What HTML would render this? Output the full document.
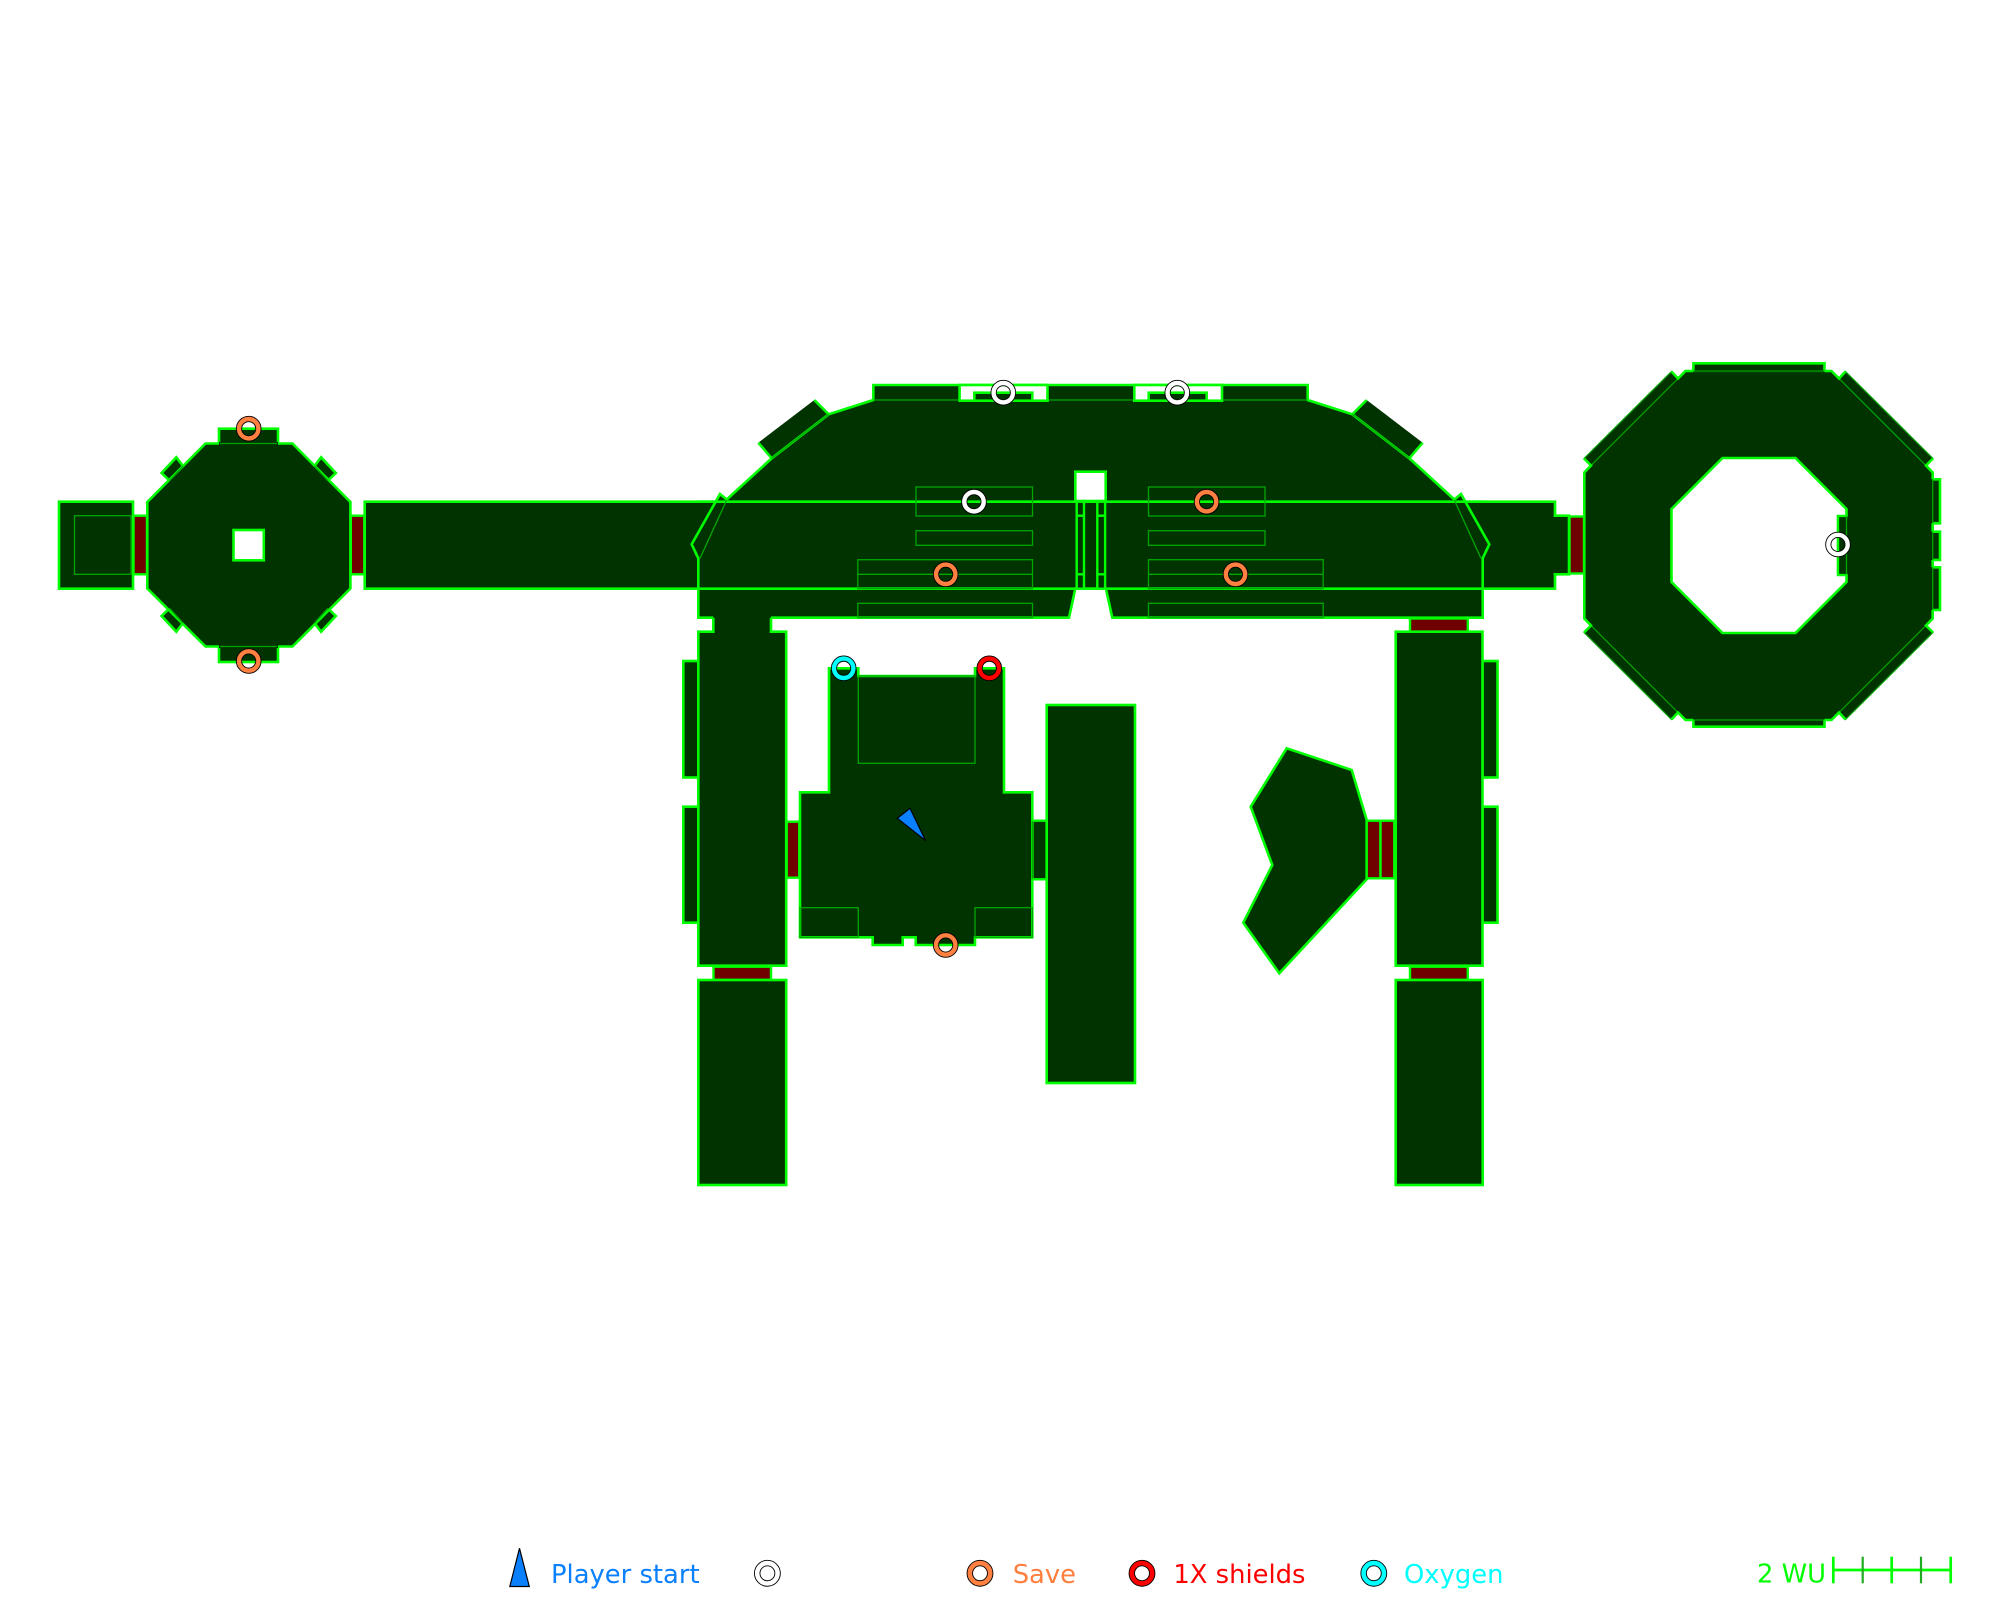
<!DOCTYPE html>
<html><head><meta charset="utf-8"><style>
html,body{margin:0;padding:0;background:#fff;}
svg{display:block;}
text{font-family:"DejaVu Sans","Liberation Sans",sans-serif;font-size:25.8px;}
</style></head><body>
<svg width="2000" height="1600" viewBox="0 0 2000 1600" xmlns="http://www.w3.org/2000/svg">
<rect width="2000" height="1600" fill="#fff"/>
<g stroke-linejoin="miter">
<!-- long corridor -->
<rect x="364.7" y="501.7" width="1190.3" height="87" fill="#003300" stroke="#00ff00" stroke-width="2.6"/>
<rect x="1555" y="515.7" width="14" height="58.6" fill="#003300" stroke="#00ff00" stroke-width="2.6"/>
<rect x="1552.5" y="517" width="6" height="56" fill="#003300"/>
<!-- door to big octagon -->
<rect x="1569.5" y="516.5" width="14.5" height="57" fill="#700000" stroke="#00ff00" stroke-width="2.4"/>

<!-- left room -->
<rect x="59" y="501.7" width="74" height="87" fill="#003300" stroke="#00ff00" stroke-width="2.6"/>
<rect x="74.5" y="515.7" width="56.5" height="58.6" fill="none" stroke="#00a500" stroke-width="1.3"/>
<rect x="133.5" y="515.7" width="13.5" height="58.6" fill="#700000" stroke="#00ff00" stroke-width="2.4"/>

<!-- left octagon tabs and squares -->
<rect x="219" y="428.7" width="59" height="16" fill="#003300" stroke="#00ff00" stroke-width="2.6"/>
<rect x="219" y="645" width="59" height="17" fill="#003300" stroke="#00ff00" stroke-width="2.6"/>
<polygon points="183,466 176.3,457.3 161.6,473 169.6,480.7" fill="#003300" stroke="#00ff00" stroke-width="2.6"/>
<polygon points="314.4,466 321.1,457.3 335.8,473 327.8,480.7" fill="#003300" stroke="#00ff00" stroke-width="2.6"/>
<polygon points="183,623 176.3,631.7 161.6,616 169.6,608.3" fill="#003300" stroke="#00ff00" stroke-width="2.6"/>
<polygon points="314.4,623 321.1,631.7 335.8,616 327.8,608.3" fill="#003300" stroke="#00ff00" stroke-width="2.6"/>
<!-- left octagon -->
<polygon points="205.5,443.5 292.5,443.5 350.4,502 350.4,588.5 292.5,646.5 205.5,646.5 147.3,588.5 147.3,502" fill="#003300" stroke="#00ff00" stroke-width="2.6"/>
<line x1="219" y1="443.5" x2="278" y2="443.5" stroke="#003300" stroke-width="3"/>
<line x1="220" y1="443.5" x2="277" y2="443.5" stroke="#00a500" stroke-width="1.3"/>
<line x1="219" y1="646.5" x2="278" y2="646.5" stroke="#003300" stroke-width="3"/>
<line x1="220" y1="646.5" x2="277" y2="646.5" stroke="#00a500" stroke-width="1.3"/>
<g stroke="#00a500" stroke-width="1.3">
<line x1="183" y1="466" x2="169.6" y2="480.7"/>
<line x1="314.4" y1="466" x2="327.8" y2="480.7"/>
<line x1="183" y1="623" x2="169.6" y2="608.3"/>
<line x1="314.4" y1="623" x2="327.8" y2="608.3"/>
</g>
<rect x="233.5" y="530" width="30.3" height="30.3" fill="#fff" stroke="#00ff00" stroke-width="2.6"/>
<rect x="350.8" y="515.7" width="13.5" height="58.6" fill="#700000" stroke="#00ff00" stroke-width="2.4"/>

<!-- left leg tabs -->
<rect x="683.3" y="661" width="15" height="116.5" fill="#003300" stroke="#00ff00" stroke-width="2.6"/>
<rect x="683.3" y="806.7" width="15" height="116" fill="#003300" stroke="#00ff00" stroke-width="2.6"/>
<!-- right leg tabs -->
<rect x="1482.5" y="661" width="15" height="116.5" fill="#003300" stroke="#00ff00" stroke-width="2.6"/>
<rect x="1482.5" y="806.7" width="15" height="116" fill="#003300" stroke="#00ff00" stroke-width="2.6"/>

<!-- wings -->
<polygon points="828.7,414.3 814.3,400 758.3,442.7 771.7,458.3" fill="#003300"/>
<polygon points="1352.3,414.3 1366.7,400 1422.7,442.7 1409.3,458.3" fill="#003300"/>
<g stroke="#00ff00" stroke-width="2.6">
<line x1="828.7" y1="414.3" x2="814.3" y2="400"/>
<line x1="758.3" y1="442.7" x2="771.7" y2="458.3"/>
<line x1="1352.3" y1="414.3" x2="1366.7" y2="400"/>
<line x1="1422.7" y1="442.7" x2="1409.3" y2="458.3"/>
</g>

<!-- hull -->
<polygon points="873.3,385 1307.7,385 1307.7,400 1352.3,414.3 1409.3,458.3 1454.3,499.5 1461,494 1489.3,544.3 1482.7,558.3 1482.7,617.7 1112.3,617.7 1105.9,588.7 1075.3,588.7 1069,617.7 698.3,617.7 698.3,558.3 691.7,544.3 720,494 726.7,499.5 771.7,458.3 828.7,414.3 873.3,400" fill="#003300" stroke="#00ff00" stroke-width="2.6"/>
<!-- corridor lines across hull -->
<line x1="698.3" y1="501.7" x2="1482.7" y2="501.7" stroke="#00ff00" stroke-width="2.6"/>
<line x1="698.3" y1="588.7" x2="1482.7" y2="588.7" stroke="#00ff00" stroke-width="2.6"/>
<!-- thin inner hull lines -->
<g stroke="#00a500" stroke-width="1.3" fill="none">
<line x1="873.3" y1="400" x2="1307.7" y2="400"/>
<line x1="828.7" y1="414.3" x2="771.7" y2="458.3"/>
<line x1="1352.3" y1="414.3" x2="1409.3" y2="458.3"/>
<line x1="726.7" y1="500" x2="700" y2="558.3"/>
<line x1="1454.3" y1="500" x2="1481" y2="558.3"/>
<rect x="916" y="487" width="116.5" height="29"/>
<rect x="916" y="530.7" width="116.5" height="14.6"/>
<rect x="857.8" y="559.7" width="174.7" height="29"/>
<line x1="857.8" y1="574.3" x2="1032.5" y2="574.3"/>
<rect x="857.8" y="603.3" width="174.7" height="14.4"/>
<rect x="1148.5" y="487" width="116.5" height="29"/>
<rect x="1148.5" y="530.7" width="116.5" height="14.6"/>
<rect x="1148.5" y="559.7" width="174.7" height="29"/>
<line x1="1148.5" y1="574.3" x2="1323.2" y2="574.3"/>
<rect x="1148.5" y="603.3" width="174.7" height="14.4"/>
</g>
<!-- top notches -->
<rect x="959.6" y="385" width="87.9" height="15.7" fill="#fff" stroke="#00ff00" stroke-width="2.6"/>
<rect x="974.3" y="392.7" width="58" height="8" fill="#003300" stroke="#00ff00" stroke-width="2.6"/>
<rect x="1134.3" y="385" width="87.7" height="15.7" fill="#fff" stroke="#00ff00" stroke-width="2.6"/>
<rect x="1148.7" y="392.7" width="58" height="8" fill="#003300" stroke="#00ff00" stroke-width="2.6"/>
<!-- center hole and column -->
<rect x="1075.3" y="471.7" width="30.4" height="29.3" fill="#fff" stroke="#00ff00" stroke-width="2.6"/>
<g stroke="#00ff00" stroke-width="2.4" fill="#003300">
<rect x="1076.7" y="501.7" width="7.3" height="87"/>
<rect x="1097.3" y="501.7" width="7.8" height="87"/>
<line x1="1076.7" y1="515.7" x2="1084" y2="515.7"/>
<line x1="1076.7" y1="574.3" x2="1084" y2="574.3"/>
<line x1="1097.3" y1="515.7" x2="1105.1" y2="515.7"/>
<line x1="1097.3" y1="574.3" x2="1105.1" y2="574.3"/>
</g>

<!-- left neck + leg -->
<polygon points="713.3,616 771,616 771,631.7 786.2,631.7 786.2,965.7 698.3,965.7 698.3,631.7 713.3,631.7" fill="#003300"/>
<polyline points="713.3,617.7 713.3,631.7 698.3,631.7 698.3,965.7 786.2,965.7 786.2,631.7 771,631.7 771,617.7" fill="none" stroke="#00ff00" stroke-width="2.6"/>
<rect x="713.5" y="966.7" width="57.5" height="13.3" fill="#700000" stroke="#00ff00" stroke-width="2.4"/>
<rect x="698.3" y="980" width="87.9" height="205" fill="#003300" stroke="#00ff00" stroke-width="2.6"/>
<rect x="786.7" y="821.7" width="12.6" height="56" fill="#700000" stroke="#00ff00" stroke-width="2.4"/>

<!-- right leg -->
<rect x="1410" y="618.5" width="57.8" height="13.2" fill="#700000" stroke="#00ff00" stroke-width="2.4"/>
<rect x="1395.7" y="631.7" width="86.8" height="334" fill="#003300" stroke="#00ff00" stroke-width="2.6"/>
<rect x="1410" y="966.7" width="57.8" height="13.3" fill="#700000" stroke="#00ff00" stroke-width="2.4"/>
<rect x="1395.7" y="980" width="87" height="205" fill="#003300" stroke="#00ff00" stroke-width="2.6"/>

<!-- center room -->
<rect x="1031" y="820.7" width="16.7" height="58.6" fill="#003300" stroke="#00ff00" stroke-width="2.4"/>
<polygon points="829,668.3 858.3,668.3 858.3,676 975,676 975,668.3 1004,668.3 1004,792.3 1032.3,792.3 1032.3,937.3 975,937.3 975,945 915.7,945 915.7,937.3 902.7,937.3 902.7,945 872.7,945 872.7,937.3 800,937.3 800,792.3 829,792.3" fill="#003300" stroke="#00ff00" stroke-width="2.6"/>
<g stroke="#00a500" stroke-width="1.3" fill="none">
<rect x="858.3" y="676" width="116.7" height="87.3"/>
<rect x="800" y="907.7" width="58.3" height="29.6"/>
<rect x="975" y="907.7" width="57.3" height="29.6"/>
<line x1="1032.3" y1="821" x2="1032.3" y2="879"/>
</g>

<!-- central column -->
<rect x="1046.7" y="705" width="88.3" height="378" fill="#003300" stroke="#00ff00" stroke-width="2.6"/>

<!-- irregular room -->
<polygon points="1286.7,748.3 1351.7,770 1366.7,820 1366.7,879.3 1279.3,973.3 1243.3,922.7 1272.3,865 1250.7,806.7" fill="#003300" stroke="#00ff00" stroke-width="2.6"/>
<rect x="1366.7" y="820.7" width="13.8" height="57.6" fill="#700000" stroke="#00ff00" stroke-width="2.4"/>
<rect x="1380.5" y="820.7" width="13.8" height="57.6" fill="#700000" stroke="#00ff00" stroke-width="2.4"/>

<!-- big octagon -->
<polygon points="1685.5,371 1831.5,371 1839,378.5 1926,465.5 1932.7,472.5 1932.7,618.5 1926,625.5 1839,712.5 1831.5,720 1685.5,720 1678,712.5 1591,625.5 1584.3,618.5 1584.3,472.5 1591,465.5 1678,378.5" fill="#003300"/>
<g fill="#003300" stroke="#00a500" stroke-width="1.2">
<polygon points="1839,378.5 1845.5,371.5 1933,458.5 1926,465.5"/>
<polygon points="1839,712.5 1845.5,719.5 1933,632.5 1926,625.5"/>
<polygon points="1678,712.5 1671.5,719.5 1584,632.5 1591,625.5"/>
<polygon points="1678,378.5 1671.5,371.5 1584,458.5 1591,465.5"/>
</g>
<g fill="none" stroke="#00ff00" stroke-width="2.6">
<polyline points="1671.5,371.5 1678,378.5 1685.5,371 1831.5,371 1839,378.5 1845.5,371.5"/>
<polyline points="1933,458.5 1926,465.5 1932.7,472.5 1932.7,618.5 1926,625.5 1933,632.5"/>
<polyline points="1845.5,719.5 1839,712.5 1831.5,720 1685.5,720 1678,712.5 1671.5,719.5"/>
<polyline points="1584,632.5 1591,625.5 1584.3,618.5 1584.3,472.5 1591,465.5 1584,458.5"/>
</g>
<!-- octagon tabs -->
<rect x="1693.4" y="363.3" width="131.1" height="9" fill="#003300"/>
<polyline points="1693.4,371 1693.4,363.3 1824.5,363.3 1824.5,371" fill="none" stroke="#00ff00" stroke-width="2.6"/>
<line x1="1693.4" y1="371" x2="1824.5" y2="371" stroke="#00a500" stroke-width="1.3"/>
<rect x="1693.4" y="718.5" width="131.1" height="8.2" fill="#003300"/>
<polyline points="1693.4,720 1693.4,726.7 1824.5,726.7 1824.5,720" fill="none" stroke="#00ff00" stroke-width="2.6"/>
<line x1="1693.4" y1="720" x2="1824.5" y2="720" stroke="#00a500" stroke-width="1.3"/>
<g fill="#003300">
<rect x="1931" y="479.3" width="9" height="44"/>
<rect x="1931" y="531.7" width="9" height="28.3"/>
<rect x="1931" y="567.3" width="9" height="42.7"/>
</g>
<g fill="none" stroke="#00ff00" stroke-width="2.6">
<polyline points="1932.7,479.3 1940,479.3 1940,523.3 1932.7,523.3"/>
<polyline points="1932.7,531.7 1940,531.7 1940,560 1932.7,560"/>
<polyline points="1932.7,567.3 1940,567.3 1940,610 1932.7,610"/>
</g>
<g stroke="#00a500" stroke-width="1.3">
<line x1="1932.7" y1="479.3" x2="1932.7" y2="523.3"/>
<line x1="1932.7" y1="531.7" x2="1932.7" y2="560"/>
<line x1="1932.7" y1="567.3" x2="1932.7" y2="610"/>
</g>
<!-- octagon hole -->
<polygon points="1722.5,458 1795.5,458 1846.5,509 1846.5,516 1838,516 1838,575 1846.5,575 1846.5,582 1795.5,633 1722.5,633 1671.5,582 1671.5,509" fill="#fff" stroke="#00ff00" stroke-width="2.6"/>
<rect x="1839.3" y="517.3" width="7" height="56.4" fill="#003300"/>
<line x1="1846.5" y1="516" x2="1846.5" y2="575" stroke="#00a500" stroke-width="1.3"/>
</g>

<!-- player start -->
<polygon points="897.3,818.3 910,808.3 925.7,840.7" fill="#0a80ff" stroke="#000" stroke-width="1.2" stroke-linejoin="miter"/>

<!-- markers -->
<g fill="none">
<g stroke="#000" stroke-width="6.2">
<circle cx="248.7" cy="428.7" r="9.7"/><circle cx="248.7" cy="661" r="9.7"/>
<circle cx="1003.3" cy="392.7" r="9.7"/><circle cx="1177.3" cy="392.7" r="9.7"/>
<circle cx="974" cy="501.7" r="9.7"/><circle cx="1206.6" cy="501.7" r="9.7"/>
<circle cx="945.7" cy="574.3" r="9.7"/><circle cx="1235.5" cy="574.3" r="9.7"/>
<circle cx="843.7" cy="668.3" r="9.7"/><circle cx="989.3" cy="668.3" r="9.7"/>
<circle cx="945.7" cy="945" r="9.7"/><circle cx="1838" cy="544.5" r="9.7"/>
</g>
<g stroke-width="4.4">
<circle cx="248.7" cy="428.7" r="9.7" stroke="#ff8040"/><circle cx="248.7" cy="661" r="9.7" stroke="#ff8040"/>
<circle cx="1003.3" cy="392.7" r="9.7" stroke="#fff"/><circle cx="1177.3" cy="392.7" r="9.7" stroke="#fff"/>
<circle cx="974" cy="501.7" r="9.7" stroke="#fff"/><circle cx="1206.6" cy="501.7" r="9.7" stroke="#ff8040"/>
<circle cx="945.7" cy="574.3" r="9.7" stroke="#ff8040"/><circle cx="1235.5" cy="574.3" r="9.7" stroke="#ff8040"/>
<circle cx="843.7" cy="668.3" r="9.7" stroke="#00ffff"/><circle cx="989.3" cy="668.3" r="9.7" stroke="#ff0000"/>
<circle cx="945.7" cy="945" r="9.7" stroke="#ff8040"/><circle cx="1838" cy="544.5" r="9.7" stroke="#fff"/>
</g>
</g>

<!-- legend -->
<polygon points="519.5,1548.3 529.3,1586.5 509.8,1586.5" fill="#0a80ff" stroke="#000" stroke-width="1.2"/>
<text x="551" y="1583" fill="#0a80ff">Player start</text>
<g fill="none">
<circle cx="767.4" cy="1573.3" r="10.2" stroke="#000" stroke-width="6.4"/>
<circle cx="767.4" cy="1573.3" r="10.2" stroke="#fff" stroke-width="4.6"/>
<circle cx="980" cy="1573.3" r="10.2" stroke="#000" stroke-width="6.4"/>
<circle cx="980" cy="1573.3" r="10.2" stroke="#ff8040" stroke-width="4.6"/>
<circle cx="1142" cy="1573.3" r="10.2" stroke="#000" stroke-width="6.4"/>
<circle cx="1142" cy="1573.3" r="10.2" stroke="#ff0000" stroke-width="4.6"/>
<circle cx="1373.8" cy="1573.3" r="10.2" stroke="#000" stroke-width="6.4"/>
<circle cx="1373.8" cy="1573.3" r="10.2" stroke="#00ffff" stroke-width="4.6"/>
</g>
<text x="1012.7" y="1583" fill="#ff7f3f">Save</text>
<text x="1173.4" y="1583" fill="#ff0000">1X shields</text>
<text x="1404" y="1583" fill="#00ffff">Oxygen</text>

<!-- scale -->
<text x="1757" y="1582.7" fill="#00ff00">2 WU</text>
<line x1="1833.3" y1="1570" x2="1950.7" y2="1570" stroke="#00ff00" stroke-width="2.7"/>
<g stroke-width="2.7">
<line x1="1833.3" y1="1556.7" x2="1833.3" y2="1583.3" stroke="#00ff00"/>
<line x1="1862.7" y1="1556.7" x2="1862.7" y2="1583.3" stroke="#22aa22" stroke-width="2.2"/>
<line x1="1891.7" y1="1556.7" x2="1891.7" y2="1583.3" stroke="#00ff00"/>
<line x1="1921" y1="1556.7" x2="1921" y2="1583.3" stroke="#22aa22" stroke-width="2.2"/>
<line x1="1950.7" y1="1556.7" x2="1950.7" y2="1583.3" stroke="#00ff00"/>
</g>
</svg>
</body></html>
